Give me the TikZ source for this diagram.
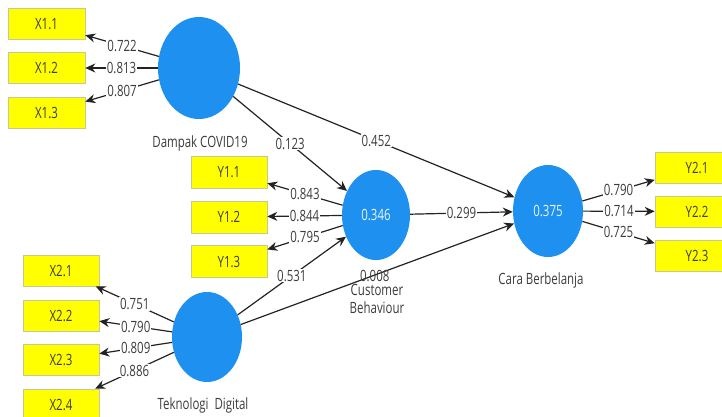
\documentclass[tikz,border=0pt]{standalone}
\usepackage{fontspec}
\setmainfont[FakeStretch=0.74]{Open Sans}
\usetikzlibrary{shapes.geometric,arrows.meta}
\definecolor{lvblue}{RGB}{30,144,240}
\definecolor{mvyellow}{RGB}{255,255,0}
\definecolor{mvborder}{RGB}{200,200,150}
\definecolor{txtgray}{RGB}{60,60,60}
\definecolor{linegray}{RGB}{35,35,35}
\tikzset{
  latent/.style={ellipse, fill=lvblue, draw=none, inner sep=0pt, text=white!92!lvblue, font=\fontsize{15.5}{17}\selectfont},
  manifest/.style={rectangle, fill=mvyellow, draw=mvborder, line width=0.6pt, minimum height=31pt, inner sep=0pt, text=txtgray, font=\fontsize{15.5}{17}\selectfont},
  conn/.style={draw=linegray, line width=1.2pt, -{Stealth[length=10pt,width=9pt]}},
  coef/.style={fill=white, inner sep=1pt, text=txtgray, font=\fontsize{15.5}{17}\selectfont},
  lvname/.style={text=txtgray, font=\fontsize{15.5}{17}\selectfont, inner sep=0pt}
}
\begin{document}
\begin{tikzpicture}[x=1pt,y=-1pt]
\useasboundingbox[fill=white] (0,0) rectangle (722,416);
% latent variables
\node[latent, minimum width=82pt, minimum height=102pt] (dc) at (199,68) {};
\node[latent, minimum width=68pt, minimum height=90pt] (cb) at (376,215) {0.346};
\node[latent, minimum width=70pt, minimum height=92pt] (cara) at (548,211) {0.375};
\node[latent, minimum width=70pt, minimum height=90pt] (td) at (207,337) {};
% names
\node[lvname] (ndc) at (200,143) {Dampak COVID19};
\node[lvname, align=center] (ncb) at (377,299) {Customer\\[1pt]Behaviour};
\node[lvname] (ncara) at (541,280) {Cara Berbelanja};
\node[lvname] (ntd) at (203,405) {Teknologi\ \ Digital};
% indicators
\node[manifest, minimum width=77pt] (x11) at (46.5,24) {X1.1};
\node[manifest, minimum width=77pt] (x12) at (46.5,68) {X1.2};
\node[manifest, minimum width=77pt] (x13) at (46.5,113) {X1.3};
\node[manifest, minimum width=76pt, minimum height=32pt] (y11) at (229,172) {Y1.1};
\node[manifest, minimum width=76pt, minimum height=32pt] (y12) at (229,217) {Y1.2};
\node[manifest, minimum width=76pt, minimum height=32pt] (y13) at (229,261.5) {Y1.3};
\node[manifest, minimum width=76pt] (x21) at (61,270.5) {X2.1};
\node[manifest, minimum width=76pt] (x22) at (61,315.5) {X2.2};
\node[manifest, minimum width=76pt] (x23) at (61,359.5) {X2.3};
\node[manifest, minimum width=76pt] (x24) at (61,404.5) {X2.4};
\node[manifest, minimum width=84pt] (y21) at (697,167.5) {Y2.1};
\node[manifest, minimum width=84pt] (y22) at (697,211.5) {Y2.2};
\node[manifest, minimum width=84pt] (y23) at (697,256) {Y2.3};
% outer loadings
\draw[conn] (dc) -- node[coef] {0.722} (x11);
\draw[conn] (dc) -- node[coef] {0.813} (x12);
\draw[conn] (dc) -- node[coef] {0.807} (x13);
\draw[conn] (cb) -- node[coef] {0.843} (y11);
\draw[conn] (cb) -- node[coef] {0.844} (y12);
\draw[conn] (cb) -- node[coef] {0.795} (y13);
\draw[conn] (td) -- node[coef] {0.751} (x21);
\draw[conn] (td) -- node[coef] {0.790} (x22);
\draw[conn] (td) -- node[coef] {0.809} (x23);
\draw[conn] (td) -- node[coef] {0.886} (x24);
\draw[conn] (cara) -- node[coef] {0.790} (y21);
\draw[conn] (cara) -- node[coef] {0.714} (y22);
\draw[conn] (cara) -- node[coef] {0.725} (y23);
% path coefficients
\draw[conn] (dc) -- node[coef] {0.123} (cb);
\draw[conn] (dc) -- node[coef] {0.452} (cara);
\draw[conn] (td) -- node[coef] {0.531} (cb);
\draw[conn] (cb) -- node[coef] {0.299} (cara);
\draw[conn] (td) -- node[coef, fill=none, pos=0.49, yshift=-1pt] {0.008} (cara);
\end{tikzpicture}
\end{document}
